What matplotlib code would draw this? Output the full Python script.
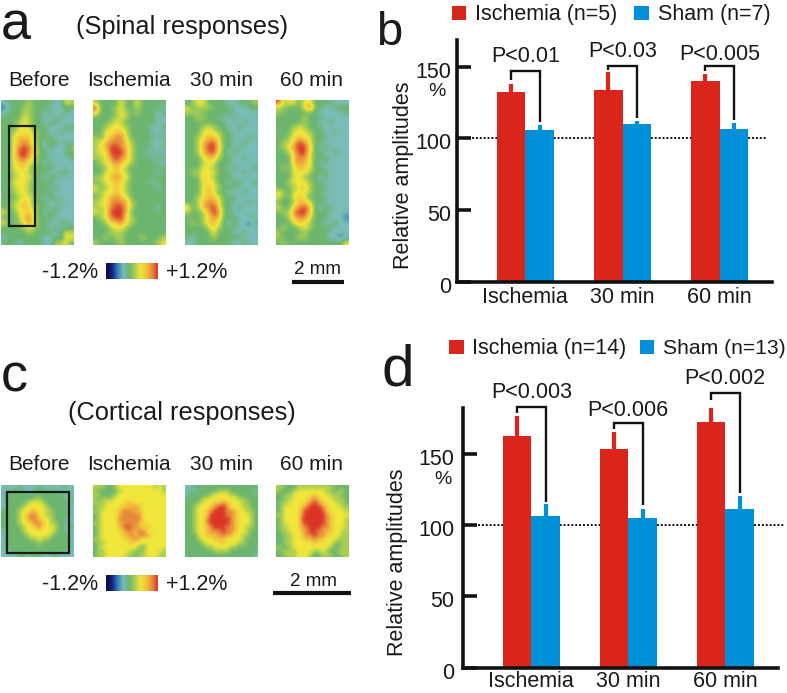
import numpy as np
import matplotlib
matplotlib.use("Agg")
import matplotlib.pyplot as plt
from matplotlib.colors import LinearSegmentedColormap
from matplotlib.patches import Rectangle
from matplotlib.transforms import ScaledTranslation

plt.rcParams['font.family'] = ['Liberation Sans', 'DejaVu Sans']

# ---------- data ----------
groups = ["Ischemia", "30 min", "60 min"]
frames = ["Before", "Ischemia", "30 min", "60 min"]
yticks = [0, 50, 100, 150]

b_red = [132.4, 133.5, 140.0]
b_red_err = [138.0, 146.5, 145.0]
b_blue = [105.9, 109.8, 106.8]
b_blue_err = [109.3, 112.1, 110.5]
b_p = ["P<0.01", "P<0.03", "P<0.005"]
b_brk_left = [140.7, 148.0, 147.0]
b_brk_top = [147.0, 150.7, 150.7]
b_brk_right = [111.6, 114.0, 113.0]

d_red = [162.4, 153.3, 172.0]
d_red_err = [176.6, 165.2, 187.0]
d_blue = [106.1, 104.7, 111.4]
d_blue_err = [114.5, 111.0, 120.3]
d_p = ["P<0.003", "P<0.006", "P<0.002"]
d_brk_left = [178.7, 167.0, 187.6]
d_brk_top = [182.9, 171.3, 192.3]
d_brk_right = [116.3, 114.0, 122.6]

spine_before = [
    "34444544443365", "23445544433344", "34445544343343", "44446544333433", "44456544344333",
    "44466644433344", "44566654433433", "44677754443333", "44678754344343", "44689864343335",
    "44699864433344", "44689754433334", "44677654343333", "44667544443333", "44566544433443",
    "44566644344333", "44666544443333", "44566544434333", "44566544443333", "44456644344333",
    "44567644433433", "44567654434333", "64466754344333", "44457854443333", "64456854433443",
    "44445654434334", "44444544443465", "34444444334366", "44434444335564"]
spine_isch = [
    "54444644644444", "94445644544443", "74445654544434", "44445654444433", "44456544444433",
    "44566654444334", "44667754444333", "54678864444434", "56788865444333", "56799875444334",
    "56699975443433", "55689875444344", "45678765444433", "44567654444444", "44667654444434",
    "55678764444444", "45667654444344", "64567654444434", "55667654444444", "45678764444444",
    "56688875444444", "55689975444434", "65699974444444", "45689965444444", "44577865444444",
    "44456654444444", "44455544444444", "44545544454445", "54444544444456"]
spine_30 = [
    "35664444334445", "64555444433344", "55544444433333", "44554443343333", "44444444333433",
    "44456544334333", "44466654433333", "44567764433343", "44578964433433", "44579974434333",
    "44578964343333", "44467754433433", "44456644433333", "44466544343334", "45566644433433",
    "44476544433333", "44466644344334", "44467654443333", "44467644333433", "44567764443333",
    "44578864433343", "74578974434333", "54457984433333", "44456874443343", "45457764343324",
    "44445754443333", "44444644433433", "43444544444333", "33444444433433"]
spine_60 = [
    "95664664444333", "55444694433444", "54444444333334", "44444544433333", "44444544334333",
    "44456544433333", "44466654433433", "44567664443333", "45579864433333", "45689974343333",
    "44579964433433", "44478864443333", "44478764343333", "45467764433333", "44466654443333",
    "44466544343333", "44566654433333", "44456754443333", "65466654433333", "64467644443333",
    "44457764433333", "64478974344333", "45589974443333", "44578864443332", "44467654433433",
    "45445654444333", "54444544443333", "54445544443323", "45444444444446"]

cort_before = [
    "333343333433333433", "344444334444443343", "344444444444444433", "344444445544444434",
    "344444566654444443", "344445666665444433", "444456677665544443", "444456788665544443",
    "444456788766544433", "444456678876554433", "444445667866654434", "344445666666654433",
    "344444566666544443", "344444455655444443", "344444444544444443", "344444444444444443",
    "334444444444444433", "333344344433443333"]
cort_isch = [
    "555445666666666565", "544444566666666665", "554445666666666666", "545556666666666666",
    "555666667766666666", "455666677787666666", "556666788877666666", "456666788888666666",
    "456666888888666666", "556666788887766666", "456666789887676666", "456666678878866666",
    "456666677878886666", "556666667787666666", "455666666766666666", "456666666665466666",
    "455666666554566665", "455666665545566655"]
cort_30 = [
    "334444444444444444", "343444445554444443", "344444566665544444", "444456666666655444",
    "444566677876665544", "445666789986665544", "445667899988766554", "445667999988766654",
    "445668999998766654", "445668999998766654", "445667899988766554", "445667888988766544",
    "444667778887665544", "444566677766665444", "444456666766655444", "444445566665544444",
    "444444455554444444", "444444444444444443"]
cort_60 = [
    "554445555555554444", "544456666666554554", "445566666766655544", "445566667876665554",
    "455666678987666554", "456666789998766655", "456666899999766665", "556666899999876666",
    "456666999999876665", "456666899999876665", "455666889998876665", "455666789988776655",
    "445566788988766655", "445566677877666555", "445566666766665455", "544566666666654455",
    "455556666556544555", "445556665445554455"]

# ---------- style ----------
W, H = 787, 693
RED, BLUE = "#DA251D", "#0090DA"
heat = LinearSegmentedColormap.from_list("heat", [
    "#0b0b3a", "#14207f", "#2f7fc0", "#7abdb8", "#6cb56e",
    "#a9cf52", "#f0e63c", "#f2c03c", "#e88a3c", "#db3529"])
FS = 15.5
INK = "#1a1a1a"

fig = plt.figure(figsize=(W / 100, H / 100), dpi=100)
canvas = fig.add_axes([0, 0, 1, 1])
canvas.axis("off")


def to_grid(rows):
    return np.array([[int(c) for c in r] for r in rows], dtype=float)


def label(x, y, s, size=FS, ha="center", va="center", **kw):
    canvas.text(x, y, s, fontsize=size, ha=ha, va=va, color=INK, **kw)


def heatmap(rows, x0, x1, y0, y1):
    canvas.imshow(to_grid(rows), cmap=heat, vmin=0, vmax=9, extent=(x0, x1, y1, y0),
                  interpolation="bicubic", aspect="auto", zorder=1)


def colorbar(x0, x1, y0, y1):
    canvas.imshow(np.linspace(0, 9, 256)[None, :], cmap=heat, vmin=0, vmax=9,
                  extent=(x0, x1, y1, y0), aspect="auto", zorder=1)


col_x = [(1.3, 74), (93, 165.7), (184.7, 257.3), (276, 348.7)]
col_c = [39, 129, 221.7, 312]

for (x0, x1), c, name, rows in zip(col_x, col_c, frames,
                                   [spine_before, spine_isch, spine_30, spine_60]):
    heatmap(rows, x0, x1, 100, 245)
    label(c, 81, name, size=15)
for (x0, x1), c, name, rows in zip(col_x, col_c, frames,
                                   [cort_before, cort_isch, cort_30, cort_60]):
    heatmap(rows, x0, x1, 485, 557)
    label(c, 465, name, size=15)

canvas.add_patch(Rectangle((9.3, 126), 25.7, 100, fill=False, ec="#1a1a1a", lw=1.6, zorder=3))
canvas.add_patch(Rectangle((7.3, 491.7), 61.7, 61, fill=False, ec="#1a1a1a", lw=1.6, zorder=3))

colorbar(106, 157.3, 264, 279.3)
colorbar(106, 157.3, 576, 591.3)
for yc in (273, 584):
    label(98, yc, "-1.2%", ha="right")
    label(165.7, yc, "+1.2%", ha="left")

canvas.plot([291.7, 344], [281.7, 281.7], color="#111111", lw=3, solid_capstyle="butt")
canvas.plot([272.7, 351], [593, 593], color="#111111", lw=3, solid_capstyle="butt")
label(317, 270, "2 mm", size=13.5)
label(314, 581, "2 mm", size=13.5)

label(182, 27, "(Spinal responses)", size=18.3)
label(182, 413, "(Cortical responses)", size=18.3)

label(1, 40, "a", size=39, ha="left", va="baseline")
label(376, 45, "b", size=34, ha="left", va="baseline")
label(1, 391, "c", size=39, ha="left", va="baseline")
label(382, 385, "d", size=42, ha="left", va="baseline")


def legend(items):
    for x0, y0, col, tx, s, fs in items:
        canvas.add_patch(Rectangle((x0, y0), 14.6, 14.4, fc=col, ec="none"))
        label(tx, y0 + 8.5, s, ha="left", size=fs)


legend([(451.7, 5.7, RED, 475, "Ischemia (n=5)", FS), (634.3, 5.7, BLUE, 658.3, "Sham (n=7)", FS),
        (449, 340, RED, 472.3, "Ischemia (n=14)", FS), (639.7, 340, BLUE, 663.3, "Sham (n=13)", 15.2)])

canvas.set_xlim(0, W)
canvas.set_ylim(H, 0)


def bar_panel(left, right, base, unit, step, center0, ytop, red, red_err, blue, blue_err,
              p, brk_l, brk_t, brk_r, p_y, dot, pct, ylab, xlab_pad, ypad):
    ax = fig.add_axes([left / W, 1 - base / H, (right - left) / W, ytop * unit / H])
    ax.patch.set_alpha(0)
    ax.set_xlim(-(center0 - left) / step, (right - center0) / step)
    ax.set_ylim(0, ytop)
    w = 28.7 / step
    x = np.arange(3)
    ax.axhline(100, xmin=dot[0], xmax=dot[1], color="#111111", lw=1.4, ls=(0, (1, 1)),
               clip_on=False, zorder=1)
    ax.bar(x - w / 2, red, w, color=RED, zorder=2)
    ax.bar(x + w / 2, blue, w, color=BLUE, zorder=2)
    ax.vlines(x - w / 2, red, red_err, color=RED, lw=3, zorder=2)
    ax.vlines(x + w / 2, blue, blue_err, color=BLUE, lw=3, zorder=2)
    for i in range(3):
        ax.plot([x[i] - w / 2, x[i] - w / 2, x[i] + w / 2, x[i] + w / 2],
                [brk_l[i], brk_t[i], brk_t[i], brk_r[i]],
                color="#111111", lw=1.7, clip_on=False, zorder=3,
                solid_joinstyle="miter", solid_capstyle="butt")
        canvas.text(left + (x[i] + (center0 - left) / step) * step, p_y[i], p[i],
                    fontsize=FS, ha="center", va="center", color=INK)
    for s in ("top", "right"):
        ax.spines[s].set_visible(False)
    for s in ("left", "bottom"):
        ax.spines[s].set_linewidth(2.6)
        ax.spines[s].set_color("#111111")
    ax.set_yticks(yticks)
    ax.tick_params(axis="y", direction="in", length=10, width=2.6, color="#111111",
                   labelsize=FS, pad=ypad, labelcolor=INK)
    for t in ax.get_yticklabels():
        t.set_transform(t.get_transform() + ScaledTranslation(0, -3 / 100, fig.dpi_scale_trans))
    ax.set_xticks(x)
    ax.set_xticklabels(groups)
    ax.tick_params(axis="x", length=0, labelsize=FS, pad=xlab_pad, labelcolor=INK)
    label(pct[0], pct[1], "%", size=14)
    label(ylab[0], ylab[1], "Relative amplitudes", rotation=90)
    return ax


bar_panel(456.7, 771.7, 281.7, 1.433, 97.2, 525.3, 169, b_red, b_red_err, b_blue, b_blue_err,
          b_p, b_brk_left, b_brk_top, b_brk_right, [57, 51.7, 54], (0.048, 0.985),
          (436.7, 91), (404, 175), 4, 4)
bar_panel(463.3, 778, 667.7, 1.427, 97.0, 531.3, 181.8, d_red, d_red_err, d_blue, d_blue_err,
          d_p, d_brk_left, d_brk_top, d_brk_right, [392, 410, 378], (0.047, 1.022),
          (443, 479), (398, 562), 2.5, 6.5)

fig.savefig("out.png", dpi=100)
